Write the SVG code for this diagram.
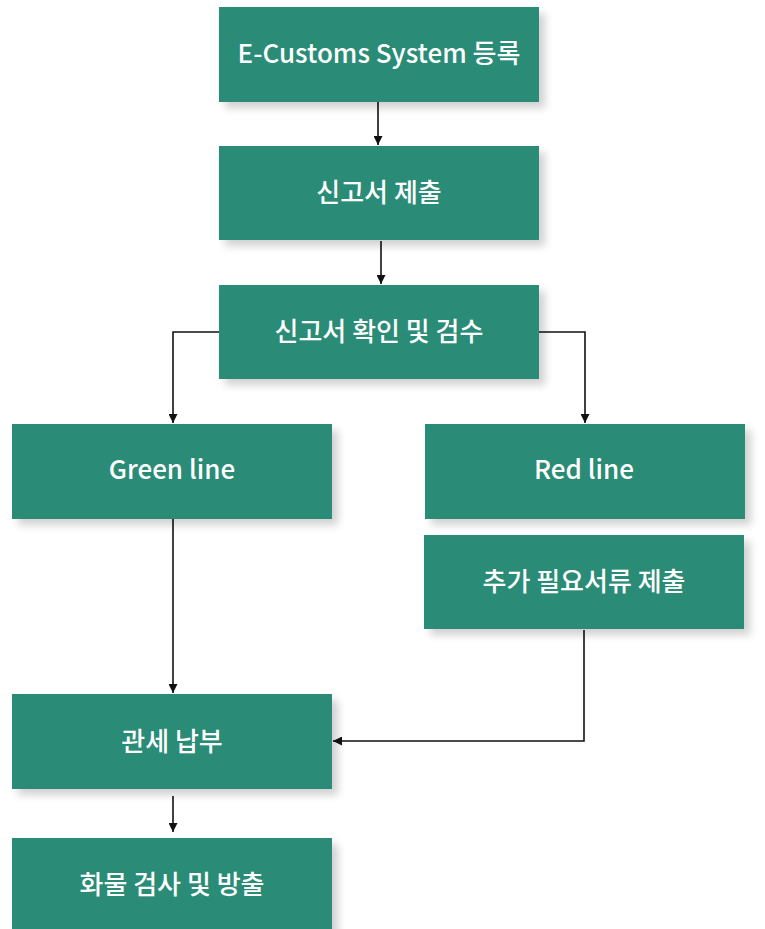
<svg xmlns="http://www.w3.org/2000/svg" width="765" height="929" viewBox="0 0 765 929">
<style>
.box{fill:#2a8c76;}
.shadow{fill:#000;opacity:0.18;filter:url(#blur);}
.lbl{fill:#fff;font-family:"Noto Sans CJK KR","Noto Sans",sans-serif;font-size:26px;font-weight:500;text-anchor:middle;dominant-baseline:central;}
.conn{fill:none;stroke:#111;stroke-width:1.6;}
</style>
<defs>
<filter id="blur" x="-20%" y="-20%" width="140%" height="140%"><feGaussianBlur stdDeviation="4"/></filter>
<marker id="arr" viewBox="0 0 10 10" refX="10" refY="5" markerWidth="9" markerHeight="9" orient="auto" markerUnits="userSpaceOnUse"><path d="M0,0 L10,5 L0,10 z" fill="#111"/></marker>
</defs>
<rect width="765" height="929" fill="#fff"/>
<g id="connectors">
<path class="conn" d="M378,102 V145" marker-end="url(#arr)"/>
<path class="conn" d="M381,241 V284" marker-end="url(#arr)"/>
<path class="conn" d="M219,332 H173 V423" marker-end="url(#arr)"/>
<path class="conn" d="M539,332 H585 V423" marker-end="url(#arr)"/>
<path class="conn" d="M173,519 V693" marker-end="url(#arr)"/>
<path class="conn" d="M584,630 V741 H333" marker-end="url(#arr)"/>
<path class="conn" d="M173,796 V832" marker-end="url(#arr)"/>
</g>
<g id="n1"><rect class="shadow" x="225" y="13" width="320" height="95"/><rect class="box" x="219" y="7" width="320" height="95"/><text class="lbl" x="379" y="51">E-Customs System 등록</text></g>
<g id="n2"><rect class="shadow" x="225" y="152" width="320" height="94"/><rect class="box" x="219" y="146" width="320" height="94"/><text class="lbl" x="379" y="190">신고서 제출</text></g>
<g id="n3"><rect class="shadow" x="225" y="291" width="320" height="94"/><rect class="box" x="219" y="285" width="320" height="94"/><text class="lbl" x="379" y="329">신고서 확인 및 검수</text></g>
<g id="n4"><rect class="shadow" x="18" y="430" width="320" height="95"/><rect class="box" x="12" y="424" width="320" height="95"/><text class="lbl" x="172" y="467">Green line</text></g>
<g id="n5"><rect class="shadow" x="431" y="430" width="320" height="95"/><rect class="box" x="425" y="424" width="320" height="95"/><text class="lbl" x="584" y="467">Red line</text></g>
<g id="n6"><rect class="shadow" x="430" y="541" width="320" height="94"/><rect class="box" x="424" y="535" width="320" height="94"/><text class="lbl" x="584" y="579">추가 필요서류 제출</text></g>
<g id="n7"><rect class="shadow" x="18" y="700" width="320" height="95"/><rect class="box" x="12" y="694" width="320" height="95"/><text class="lbl" x="172" y="739">관세 납부</text></g>
<g id="n8"><rect class="shadow" x="18" y="844" width="320" height="95"/><rect class="box" x="12" y="838" width="320" height="95"/><text class="lbl" x="172" y="882">화물 검사 및 방출</text></g>
</svg>
